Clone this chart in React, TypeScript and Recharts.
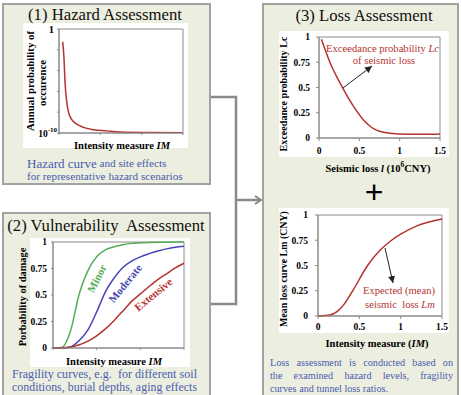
import React from 'react';
import { LineChart, Line, XAxis, YAxis, ReferenceArea } from 'recharts';

const SERIF = '"Liberation Serif", "Times New Roman", serif';
const AXIS = '#8a8a8a';
const RED = '#b5332f';
const GREEN = '#55ad55';
const BLUE = '#4646b4';
const CAPTION = '#4a5cb0';
const PANEL_BG = '#eceedf';

// (1) Hazard curve: intensity measure vs annual probability of occurrence
const hazardIM = [0.09, 0.12, 0.145, 0.186, 0.225, 0.31, 0.43, 0.59, 0.83, 1.15, 1.48, 2.2, 3.0];
const hazardProb = [6e-2, 1.7e-3, 8.7e-6, 1.05e-7, 1.2e-8, 1.9e-9, 7.2e-10, 3.5e-10, 2.1e-10, 1.6e-10, 1.26e-10, 1.12e-10, 1.05e-10];
const hazardTicks = [1e-10, 1e-8, 1e-6, 1e-4, 1e-2, 1];
const imTicks = [0, 1, 2, 3];

// (2) Fragility curves
const fragIM = [0, 0.2, 0.4, 0.6, 0.8, 1.0, 1.2, 1.4, 1.6, 1.8, 2.0, 2.2, 2.4, 2.6, 2.8, 3.0];
const minorP = [0, 0.005, 0.16, 0.51, 0.73, 0.86, 0.925, 0.955, 0.975, 0.987, 0.992, 0.995, 0.997, 0.998, 0.999, 1.0];
const moderateP = [0, 0, 0.01, 0.07, 0.17, 0.34, 0.53, 0.66, 0.76, 0.82, 0.86, 0.89, 0.915, 0.935, 0.95, 0.96];
const extensiveP = [0, 0.002, 0.01, 0.03, 0.065, 0.115, 0.18, 0.26, 0.35, 0.44, 0.51, 0.58, 0.645, 0.7, 0.755, 0.8];
const probTicks = [0, 0.25, 0.5, 0.75, 1];

// (3) Loss assessment
const lossL = [0.03, 0.14, 0.26, 0.43, 0.55, 0.67, 0.88, 1.09, 1.3, 1.5];
const lcP = [0.977, 0.74, 0.545, 0.31, 0.18, 0.096, 0.047, 0.037, 0.037, 0.04];
const lossTicks = [0, 0.5, 1, 1.5];
const lmIM = [0, 0.145, 0.23, 0.31, 0.42, 0.6, 0.75, 0.89, 1.0, 1.19, 1.5];
const lmVal = [0, 0.01, 0.043, 0.11, 0.25, 0.5, 0.65, 0.75, 0.81, 0.89, 0.96];

const hazardData = hazardIM.map((x, i) => ({ x, p: hazardProb[i] }));
const fragData = fragIM.map((x, i) => ({ x, minor: minorP[i], moderate: moderateP[i], extensive: extensiveP[i] }));
const lcData = lossL.map((x, i) => ({ x, lc: lcP[i] }));
const lmData = lmIM.map((x, i) => ({ x, lm: lmVal[i] }));

const tickStyle = { fill: '#000', fontSize: 9.5, fontWeight: 'bold' as const, fontFamily: SERIF };

const renderHazardTick = (props: any) => {
  const { x, y, payload } = props;
  const v = Number(payload && payload.value);
  const lg = Math.log10(v);
  if (Math.abs(lg + 10) < 0.01) {
    return (
      <text x={x + 2} y={y + 1} textAnchor="end" dominantBaseline="central" style={tickStyle}>
        10<tspan dy={-4} fontSize={7}>-10</tspan>
      </text>
    );
  }
  return <g />;
};

const Panel = ({ left, top, width, height }: any) => (
  <div
    style={{
      position: 'absolute', left, top, width, height, boxSizing: 'border-box',
      background: PANEL_BG, border: '2px solid #a2a2a2',
    }}
  />
);

const box = (left: number, top: number, width: number, height: number): React.CSSProperties => ({
  position: 'absolute', left, top, width, height, background: '#fff',
});

export default function App() {
  const t = { fontFamily: SERIF } as const;
  return (
    <div style={{ position: 'fixed', left: 0, top: 0, width: 461, height: 395, background: '#fff', overflow: 'hidden', fontFamily: SERIF }}>
      <Panel left={2} top={3} width={209} height={182} />
      <Panel left={2} top={212} width={209} height={200} />
      <Panel left={262} top={3} width={197} height={410} />

      {/* (1) Hazard curve */}
      <div style={box(23, 23, 165, 125)}>
        <LineChart width={165} height={125} data={hazardData} margin={{ top: 6, right: 5, bottom: 0, left: 0 }}>
          <XAxis type="number" dataKey="x" domain={[0, 3]} ticks={imTicks} tickFormatter={() => ''} height={15} stroke={AXIS} tickSize={2} />
          <YAxis type="number" scale="log" domain={[1e-10, 1]} ticks={hazardTicks} interval={0} width={36} tick={renderHazardTick} tickSize={2} stroke={AXIS} allowDataOverflow />
          <ReferenceArea x1={0} x2={3} y1={1e-10} y2={1} fill="none" stroke={AXIS} strokeOpacity={1} />
          <Line dataKey="p" type="monotone" stroke={RED} strokeWidth={1.5} dot={false} isAnimationActive={false} />
        </LineChart>
      </div>

      {/* (2) Fragility curves */}
      <div style={box(30, 238, 160, 129)}>
        <LineChart width={160} height={129} data={fragData} margin={{ top: 4, right: 6, bottom: 0, left: 0 }}>
          <XAxis type="number" dataKey="x" domain={[0, 3]} ticks={imTicks} tickFormatter={() => ''} height={19} stroke={AXIS} tickSize={2} />
          <YAxis type="number" domain={[0, 1]} ticks={probTicks} interval={0} width={23} tick={tickStyle} tickSize={2} tickMargin={4} stroke={AXIS} />
          <ReferenceArea x1={0} x2={3} y1={0} y2={1} fill="none" stroke={AXIS} strokeOpacity={1} />
          <Line dataKey="minor" type="monotone" stroke={GREEN} strokeWidth={1.5} dot={false} isAnimationActive={false} />
          <Line dataKey="moderate" type="monotone" stroke={BLUE} strokeWidth={1.5} dot={false} isAnimationActive={false} />
          <Line dataKey="extensive" type="monotone" stroke={RED} strokeWidth={1.5} dot={false} isAnimationActive={false} />
        </LineChart>
      </div>

      {/* (3a) Exceedance probability */}
      <div style={box(279, 31, 170, 126)}>
        <LineChart width={170} height={126} data={lcData} margin={{ top: 6, right: 9, bottom: 0, left: 0 }}>
          <XAxis type="number" dataKey="x" domain={[0, 1.5]} ticks={lossTicks} interval={0} height={19} stroke={AXIS} tick={tickStyle} tickSize={3} tickMargin={6} />
          <YAxis type="number" domain={[0, 1]} ticks={probTicks} interval={0} width={40} tick={tickStyle} tickSize={3} tickMargin={6} stroke={AXIS} />
          <ReferenceArea x1={0} x2={1.5} y1={0} y2={1} fill="none" stroke={AXIS} strokeOpacity={1} />
          <Line dataKey="lc" type="monotone" stroke={RED} strokeWidth={1.5} dot={false} isAnimationActive={false} />
        </LineChart>
      </div>

      {/* (3b) Mean loss curve */}
      <div style={box(279, 208, 170, 125)}>
        <LineChart width={170} height={125} data={lmData} margin={{ top: 7, right: 7, bottom: 0, left: 0 }}>
          <XAxis type="number" dataKey="x" domain={[0, 1.5]} ticks={lossTicks} interval={0} height={17} stroke={AXIS} tick={tickStyle} tickSize={3} tickMargin={4} />
          <YAxis type="number" domain={[0, 1]} ticks={probTicks} interval={0} width={39} tick={tickStyle} tickSize={3} tickMargin={7} stroke={AXIS} />
          <ReferenceArea x1={0} x2={1.5} y1={0} y2={1} fill="none" stroke={AXIS} strokeOpacity={1} />
          <Line dataKey="lm" type="monotone" stroke={RED} strokeWidth={1.5} dot={false} isAnimationActive={false} />
        </LineChart>
      </div>

      {/* Caption (3), justified */}
      <div style={{ position: 'absolute', left: 270, top: 356, width: 183, fontSize: 10.2, lineHeight: '13px', color: CAPTION, fontFamily: SERIF }}>
        <div style={{ textAlign: 'justify', textAlignLast: 'justify' }}>Loss assessment is conducted based on</div>
        <div style={{ textAlign: 'justify', textAlignLast: 'justify' }}>the examined hazard levels, fragility</div>
        <div>curves and tunnel loss ratios.</div>
      </div>

      <svg width={461} height={395} style={{ position: 'absolute', left: 0, top: 0, pointerEvents: 'none' }}>
        <defs>
          <marker id="grayHead" markerWidth="8" markerHeight="10" refX="7" refY="5" orient="auto" markerUnits="userSpaceOnUse">
            <path d="M1,1 L7,5 L1,9" fill="none" stroke="#8a8a8a" strokeWidth="2" />
          </marker>
          <marker id="blackHead" markerWidth="8" markerHeight="8" refX="7" refY="4" orient="auto" markerUnits="userSpaceOnUse">
            <path d="M0,0.5 L7,4 L0,7.5 Z" fill="#222" />
          </marker>
        </defs>

        {/* connectors */}
        <g stroke="#8a8a8a" strokeWidth={2.5} fill="none">
          <polyline points="211,97 236,97 236,304 211,304" />
          <line x1={236} y1={200} x2={261} y2={200} markerEnd="url(#grayHead)" />
        </g>

        {/* titles */}
        <g style={t} fill="#111" fontSize={16.7} textAnchor="middle" dominantBaseline="central">
          <text x={105} y={14}>(1) Hazard Assessment</text>
          <text x={106} y={225} xmlSpace="preserve">(2) Vulnerability  Assessment</text>
          <text x={364} y={15}>(3) Loss Assessment</text>
        </g>

        {/* top tick label of the hazard axis (value 1) */}
        <text x={54} y={33} textAnchor="end" fontSize={10.5} fontWeight="bold" fill="#000" fontFamily={SERIF}>1</text>

        {/* captions (1), (2) */}
        <g style={t} fill={CAPTION} dominantBaseline="central">
          <text x={27} y={163}>
            <tspan fontSize={13}>Hazard curve</tspan>
            <tspan fontSize={11.2}> and site effects</tspan>
          </text>
          <text x={27} y={176} fontSize={11.2}>for representative hazard scenarios</text>
          <text x={12} y={374} fontSize={12} textLength={185} lengthAdjust="spacing" xmlSpace="preserve">Fragility curves, e.g.  for different soil</text>
          <text x={12} y={387} fontSize={11.8} textLength={185} lengthAdjust="spacing">conditions, burial depths, aging effects</text>
        </g>

        {/* axis labels */}
        <g style={t} fill="#000" fontWeight="bold" textAnchor="middle" dominantBaseline="central">
          <text fontSize={10.8} transform="translate(30,81) rotate(-90)">Annual probability of</text>
          <text fontSize={10.8} transform="translate(42,83) rotate(-90)">occurence</text>
          <text x={122} y={145} fontSize={10.5}>Intensity measure <tspan fontStyle="italic">IM</tspan></text>

          <text fontSize={10.4} transform="translate(22,297) rotate(-90)">Porbability of damage</text>
          <text x={114} y={361} fontSize={10.5}>Intensity measure <tspan fontStyle="italic">IM</tspan></text>

          <text fontSize={10.1} transform="translate(283,94) rotate(-90)">Exceedance probability Lc</text>
          <text x={378} y={168} fontSize={10.5}>
            Seismic loss <tspan fontStyle="italic">l</tspan> (10<tspan dy={-4} fontSize={7.5}>6</tspan><tspan dy={4}>CNY)</tspan>
          </text>

          <text fontSize={9.9} transform="translate(283,269) rotate(-90)">Mean loss curve Lm (CNY)</text>
          <text x={377} y={343} fontSize={10.5}>Intensity measure (<tspan fontStyle="italic">IM</tspan>)</text>
        </g>

        {/* plus sign */}
        <text x={374} y={192} fontSize={32} textAnchor="middle" dominantBaseline="central" style={{ fontFamily: '"Liberation Sans", Arial, sans-serif' }} fill="#000">+</text>

        {/* fragility labels */}
        <g style={t} fontWeight="bold" fontSize={11} textAnchor="middle" dominantBaseline="central">
          <text fill={GREEN} transform="translate(96.7,278.3) rotate(-63)">Minor</text>
          <text fill={BLUE} transform="translate(125,283.3) rotate(-51)">Moderate</text>
          <text fill={RED} transform="translate(153.3,294.3) rotate(-39)">Extensive</text>
        </g>

        {/* annotations in loss charts */}
        <g style={t} fill={RED} fontSize={10.6} textAnchor="middle" dominantBaseline="central">
          <text x={382.5} y={48}>Exceedance probability <tspan fontStyle="italic">Lc</tspan></text>
          <text x={384} y={60}>of seismic loss</text>
          <text x={399} y={290}>Expected (mean)</text>
          <text x={400} y={304} xmlSpace="preserve">seismic  loss <tspan fontStyle="italic">Lm</tspan></text>
        </g>
        <g stroke="#222" strokeWidth={1}>
          <line x1={343} y1={88} x2={372} y2={66} markerEnd="url(#blackHead)" />
          <line x1={385} y1={248} x2={393} y2={283} markerEnd="url(#blackHead)" />
        </g>
      </svg>
    </div>
  );
}
